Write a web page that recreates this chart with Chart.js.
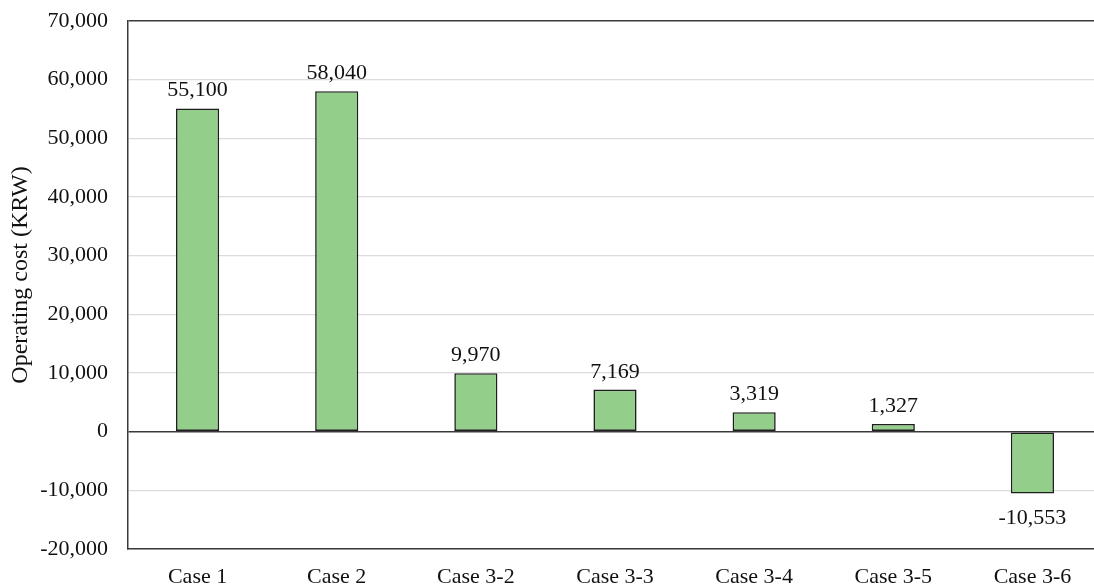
<!DOCTYPE html>
<html>
<head>
<meta charset="utf-8">
<script src="https://cdn.jsdelivr.net/npm/chart.js@4/dist/chart.umd.min.js"></script>
<style>
  html, body { margin: 0; padding: 0; background: #fff; overflow: hidden; }
  #wrap { width: 1102px; height: 588px; }
</style>
</head>
<body>
<div id="wrap"><canvas id="c" width="1102" height="588"></canvas></div>
<script>
const categories = ['Case 1', 'Case 2', 'Case 3-2', 'Case 3-3', 'Case 3-4', 'Case 3-5', 'Case 3-6'];
const operatingCost = [55100, 58040, 9970, 7169, 3319, 1327, -10553];
const yTicks = [70000, 60000, 50000, 40000, 30000, 20000, 10000, 0, -10000, -20000];
const yAxisTitle = 'Operating cost (KRW)';

const FONT = "'Liberation Serif', 'DejaVu Serif', serif";
const fmt = v => v.toLocaleString('en-US');

// Writes each bar's value just above (or below, for negatives) the bar
const valueLabels = {
  id: 'valueLabels',
  afterDatasetsDraw(chart) {
    const ctx = chart.ctx;
    const meta = chart.getDatasetMeta(0);
    ctx.save();
    ctx.font = '22px ' + FONT;
    ctx.fillStyle = '#111';
    ctx.textAlign = 'center';
    ctx.textBaseline = 'alphabetic';
    meta.data.forEach((bar, i) => {
      const v = operatingCost[i];
      if (v >= 0) {
        ctx.fillText(fmt(v), bar.x, bar.y - 12);
      } else {
        ctx.fillText(fmt(v), bar.x, bar.y + 30);
      }
    });
    ctx.restore();
  }
};

// Rotated y-axis title, sitting slightly above the plot's vertical middle
const axisTitle = {
  id: 'axisTitle',
  afterDraw(chart) {
    const ctx = chart.ctx;
    const a = chart.chartArea;
    ctx.save();
    ctx.translate(21, (a.top + a.bottom) / 2 - 10);
    ctx.rotate(-Math.PI / 2);
    ctx.font = '24px ' + FONT;
    ctx.fillStyle = '#111';
    ctx.textAlign = 'center';
    ctx.textBaseline = 'middle';
    ctx.fillText(yAxisTitle, 0, 0);
    ctx.restore();
  }
};

new Chart(document.getElementById('c'), {
  type: 'bar',
  data: {
    labels: categories,
    datasets: [{
      data: operatingCost,
      backgroundColor: '#93ce8b',
      borderColor: '#1e1e1e',
      borderWidth: 1.6,
      borderSkipped: false,
      categoryPercentage: 1,
      barPercentage: 0.31
    }]
  },
  options: {
    responsive: false,
    animation: false,
    layout: { padding: { top: 21, right: 0, bottom: 0, left: 0 } },
    plugins: { legend: { display: false }, tooltip: { enabled: false } },
    scales: {
      x: {
        grid: { display: false, drawTicks: false },
        border: { display: true, color: '#3a3a3a', width: 1.5 },
        ticks: { color: '#111', font: { family: FONT, size: 22 }, padding: 15, maxRotation: 0 },
        afterFit(s) { s.height = 39; s.paddingLeft = 0; s.paddingRight = 0; }
      },
      y: {
        min: -20000,
        max: 70000,
        afterBuildTicks(s) { s.ticks = yTicks.map(v => ({ value: v })); },
        grid: {
          drawTicks: false,
          color: c => (c.tick.value === 0 || c.tick.value === 70000) ? '#3a3a3a' : '#dcdcdc',
          lineWidth: c => (c.tick.value === 0 || c.tick.value === 70000) ? 1.5 : 1.2
        },
        border: { display: true, color: '#3a3a3a', width: 1.5 },
        ticks: { color: '#111', font: { family: FONT, size: 22 }, padding: 20, callback: v => fmt(v) },
        afterFit(s) { s.width = 128; s.paddingTop = 0; s.paddingBottom = 0; }
      }
    }
  },
  plugins: [valueLabels, axisTitle]
});
</script>
</body>
</html>
